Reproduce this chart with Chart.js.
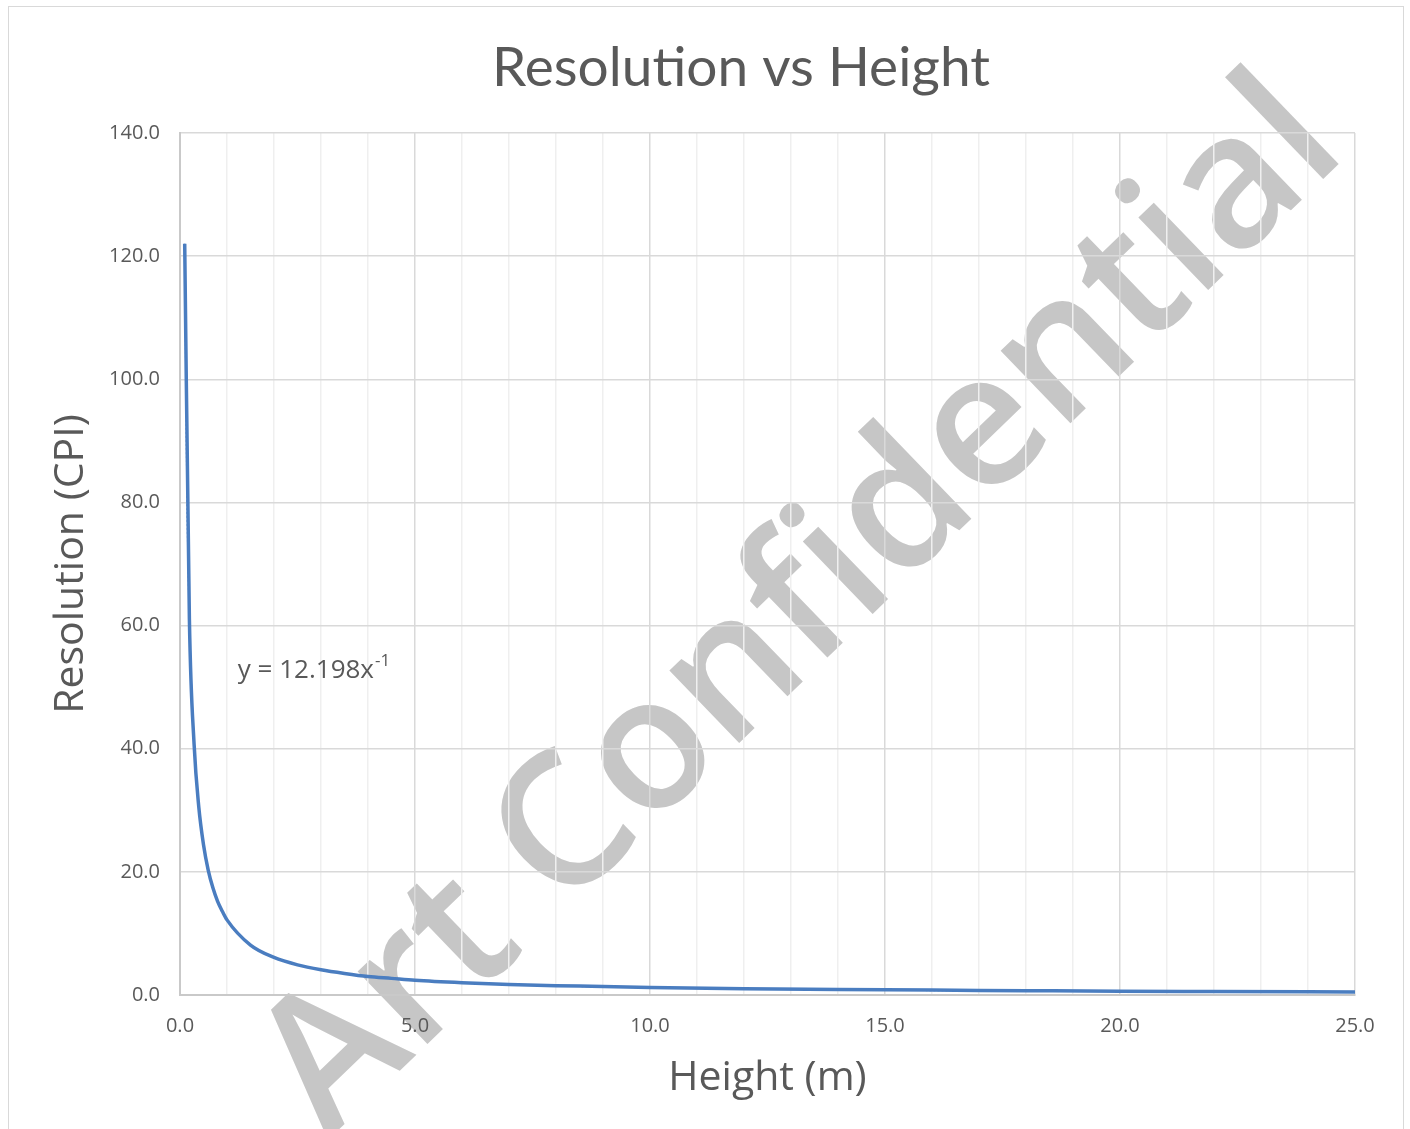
<!DOCTYPE html>
<html>
<head>
<meta charset="utf-8">
<script src="https://cdn.jsdelivr.net/npm/chart.js@4.4.0/dist/chart.umd.min.js"></script>
<style>
  html, body { margin: 0; padding: 0; background: #fff; }
  #wrap { width: 1410px; height: 1129px; }
</style>
</head>
<body>
<div id="wrap"><canvas id="chart" width="1410" height="1129"></canvas></div>
<script>
// measured series (height in m, resolution in CPI)
const heightM = [0.1, 0.2, 0.3, 0.4, 0.5, 0.6, 0.7, 0.8, 0.9, 1.0, 1.5, 2.0, 2.5, 3.0, 3.5, 4.0, 4.5, 5.0,
  6.0, 7.0, 8.0, 9.0, 10.0, 12.0, 14.0, 16.0, 18.0, 20.0, 22.0, 25.0];
const resolutionCPI = [122.0, 61.0, 40.7, 30.5, 24.4, 20.3, 17.4, 15.2, 13.6, 12.2, 8.1, 6.1, 4.9, 4.1, 3.5, 3.0, 2.7, 2.4,
  2.0, 1.7, 1.5, 1.4, 1.2, 1.0, 0.9, 0.8, 0.7, 0.6, 0.55, 0.5];

// power trendline
const trendHeight = [0.1, 0.15, 0.2, 0.3, 0.5, 0.75, 1.0, 1.5, 2.0, 3.0, 5.0, 7.5, 10.0, 15.0, 20.0, 25.0];
const trendCPI = [122.0, 81.3, 61.0, 40.7, 24.4, 16.3, 12.2, 8.1, 6.1, 4.1, 2.4, 1.6, 1.2, 0.8, 0.6, 0.5];

const equationText = 'y = 12.198x';
const equationExp = '-1';
const equationAt = { x: 1.23, y: 51.5 };

const xTicks = [0, 5, 10, 15, 20, 25];
const yMax = 140;

const grey = '#595959';
const lineBlue = '#4a7dc0';

const toPoints = (xs, ys) => xs.map((x, i) => ({ x, y: ys[i] }));

// watermark + outer frame, drawn under everything
const backdrop = {
  id: 'backdrop',
  beforeDraw(chart) {
    const ctx = chart.ctx;
    ctx.save();
    ctx.fillStyle = '#fff';
    ctx.fillRect(0, 0, chart.width, chart.height);
    ctx.strokeStyle = '#d9d9d9';
    ctx.lineWidth = 1;
    ctx.strokeRect(8.5, 6.5, 1395, 1140);
    ctx.translate(328, 1140);
    ctx.rotate(-44 * Math.PI / 180);
    ctx.font = '600 186px "Open Sans"';
    ctx.fillStyle = '#c6c6c6';
    ctx.textBaseline = 'alphabetic';
    ctx.fillText('Art Confidential', 0, 0);
    ctx.restore();
  },
  afterDraw(chart) {
    // chart title, centred the way the original is
    const ctx = chart.ctx;
    ctx.save();
    ctx.fillStyle = grey;
    ctx.font = '55px Lato';
    ctx.textAlign = 'center';
    ctx.textBaseline = 'middle';
    ctx.fillText('Resolution vs Height', 741, 68);
    ctx.restore();
  }
};

// trendline equation label
const equationLabel = {
  id: 'equationLabel',
  afterDatasetsDraw(chart) {
    const ctx = chart.ctx;
    const px = chart.scales.x.getPixelForValue(equationAt.x);
    const py = chart.scales.y.getPixelForValue(equationAt.y);
    ctx.save();
    ctx.fillStyle = grey;
    ctx.textBaseline = 'alphabetic';
    ctx.font = '26px "Open Sans"';
    ctx.fillText(equationText, px, py);
    const w = ctx.measureText(equationText).width;
    ctx.font = '17px "Open Sans"';
    ctx.fillText(equationExp, px + w + 1, py - 12);
    ctx.restore();
  }
};

new Chart(document.getElementById('chart'), {
  type: 'scatter',
  data: {
    datasets: [{
      label: 'Resolution',
      data: toPoints(heightM, resolutionCPI),
      showLine: true,
      borderColor: lineBlue,
      borderWidth: 3.5,
      pointRadius: 0,
      cubicInterpolationMode: 'monotone',
      order: 1
    }, {
      label: 'Power trend',
      data: toPoints(trendHeight, trendCPI),
      showLine: true,
      borderColor: lineBlue,
      borderWidth: 1.5,
      borderDash: [2, 2],
      pointRadius: 0,
      cubicInterpolationMode: 'monotone',
      order: 2
    }]
  },
  options: {
    responsive: false,
    animation: false,
    layout: { padding: { top: 133, left: 0, right: 55, bottom: 0 } },
    plugins: {
      legend: { display: false },
      tooltip: { enabled: false },
      title: { display: false }
    },
    scales: {
      x: {
        type: 'linear',
        min: 0,
        max: 25,
        afterFit(scale) { scale.height = 134; },
        afterBuildTicks(scale) {
          const t = [];
          for (let v = 0; v <= 25; v++) t.push({ value: v });
          scale.ticks = t;
        },
        ticks: {
          autoSkip: false,
          maxRotation: 0,
          padding: 19,
          color: grey,
          font: { family: 'Open Sans', size: 20 },
          callback: v => (xTicks.includes(v) ? v.toFixed(1) : '')
        },
        grid: {
          drawTicks: false,
          color: c => (c.tick && xTicks.includes(c.tick.value) ? '#d9d9d9' : '#efefef'),
          lineWidth: 1.5
        },
        border: { color: '#c9c9c9', width: 2 },
        title: {
          display: true,
          text: 'Height (m)',
          color: grey,
          font: { family: 'Open Sans', size: 41 },
          padding: { top: 0, bottom: 26 }
        }
      },
      y: {
        min: 0,
        max: yMax,
        afterFit(scale) { scale.width = 180; },
        ticks: {
          stepSize: 20,
          padding: 20,
          color: grey,
          font: { family: 'Open Sans', size: 20 },
          callback: v => v.toFixed(1)
        },
        grid: { drawTicks: false, color: '#d9d9d9', lineWidth: 1.5 },
        border: { color: '#c9c9c9', width: 2 },
        title: {
          display: true,
          text: 'Resolution (CPI)',
          color: grey,
          font: { family: 'Open Sans', size: 41 },
          padding: { top: 47, bottom: 0 }
        }
      }
    }
  },
  plugins: [backdrop, equationLabel]
});
</script>
</body>
</html>
